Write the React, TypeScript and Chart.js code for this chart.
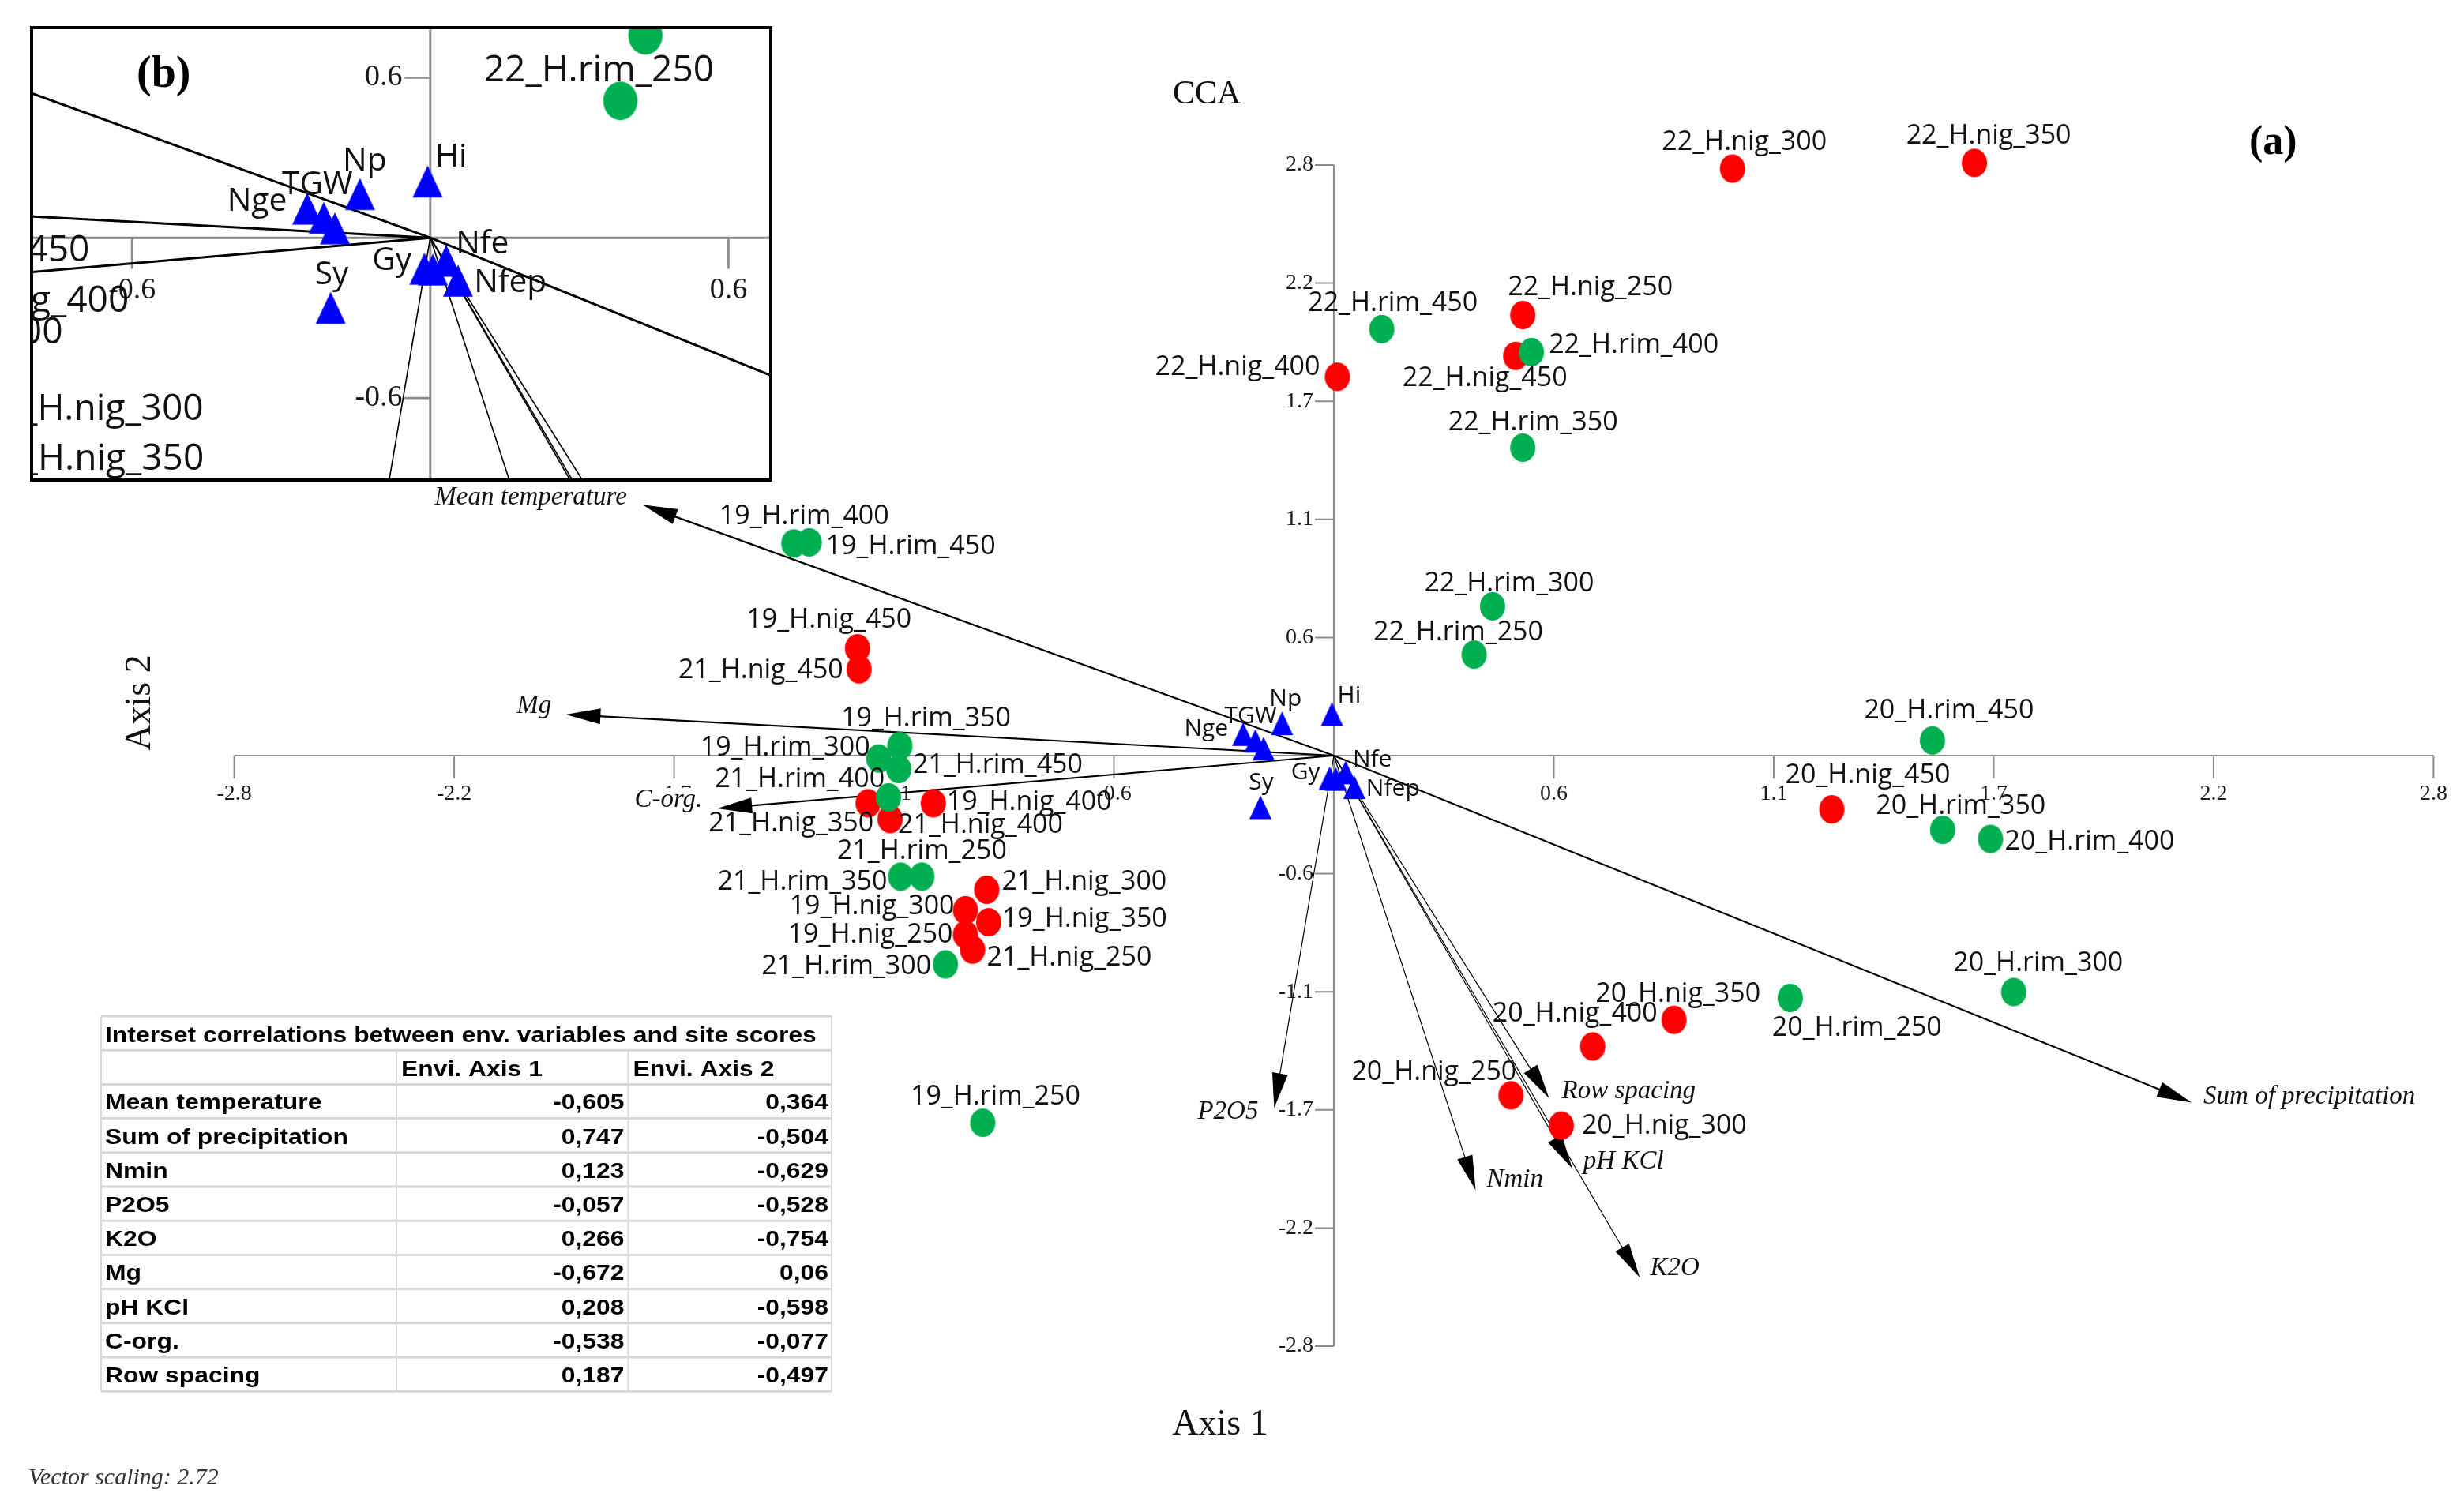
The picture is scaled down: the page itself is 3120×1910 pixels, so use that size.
import React, { useEffect, useRef } from 'react';
import { Chart, registerables } from 'chart.js';

Chart.register(...registerables);

// ---------------- DATA ----------------
const rimNames = [
  '22_H.rim_450', '22_H.rim_400', '22_H.rim_350', '22_H.rim_300', '22_H.rim_250',
  '19_H.rim_400', '19_H.rim_450', '19_H.rim_350', '19_H.rim_300', '21_H.rim_450',
  '21_H.rim_400', '21_H.rim_350', '21_H.rim_250', '21_H.rim_300', '19_H.rim_250',
  '20_H.rim_450', '20_H.rim_350', '20_H.rim_400', '20_H.rim_300', '20_H.rim_250',
];
const rimAxis1 = [0.122, 0.503, 0.481, 0.404, 0.357, -1.375, -1.336, -1.105, -1.159, -1.108, -1.134, -1.103, -1.049, -0.989, -0.894, 1.524, 1.55, 1.672, 1.731, 1.162];
const rimAxis2 = [2.022, 1.913, 1.46, 0.708, 0.479, 1.006, 1.011, 0.046, -0.014, -0.064, -0.198, -0.574, -0.574, -0.99, -1.741, 0.072, -0.352, -0.395, -1.121, -1.149];

const nigNames = [
  '22_H.nig_300', '22_H.nig_350', '22_H.nig_250', '22_H.nig_450', '22_H.nig_400',
  '19_H.nig_450', '21_H.nig_450', '21_H.nig_350', '21_H.nig_400', '19_H.nig_400',
  '21_H.nig_300', '19_H.nig_300', '19_H.nig_350', '19_H.nig_250', '21_H.nig_250',
  '20_H.nig_450', '20_H.nig_350', '20_H.nig_400', '20_H.nig_250', '20_H.nig_300',
];
const nigAxis1 = [1.015, 1.631, 0.481, 0.463, 0.009, -1.213, -1.209, -1.186, -1.13, -1.02, -0.884, -0.938, -0.879, -0.938, -0.92, 1.268, 0.866, 0.659, 0.451, 0.579];
const nigAxis2 = [2.783, 2.81, 2.089, 1.895, 1.796, 0.509, 0.409, -0.226, -0.301, -0.226, -0.636, -0.733, -0.79, -0.849, -0.92, -0.255, -1.253, -1.379, -1.611, -1.754];

const speciesNames = ['Hi', 'Np', 'Nge', 'TGW', '', 'Sy', 'Gy', '', 'Nfe', 'Nfep'];
const speciesAxis1 = [-0.005, -0.132, -0.231, -0.2, -0.179, -0.187, -0.011, 0.005, 0.03, 0.052];
const speciesAxis2 = [0.197, 0.153, 0.102, 0.07, 0.033, -0.245, -0.108, -0.111, -0.08, -0.15];

const envNames = ['Mean temperature', 'Mg', 'C-org.', 'Sum of precipitation', 'Row spacing', 'pH KCl', 'Nmin', 'K2O', 'P2O5'];
const envAxis1 = [-1.76, -1.956, -1.57, 2.184, 0.548, 0.607, 0.361, 0.779, -0.152];
const envAxis2 = [1.189, 0.195, -0.251, -1.645, -1.625, -1.958, -2.06, -2.474, -1.67];

const axisTicks = [-2.8, -2.24, -1.68, -1.12, -0.56, 0.56, 1.12, 1.68, 2.24, 2.8];

const tableTitle = 'Interset correlations between env. variables and site scores';
const tableHeaders = ['Envi. Axis 1', 'Envi. Axis 2'];
const tableVariables = ['Mean temperature', 'Sum of precipitation', 'Nmin', 'P2O5', 'K2O', 'Mg', 'pH KCl', 'C-org.', 'Row spacing'];
const tableAxis1 = ['-0,605', '0,747', '0,123', '-0,057', '0,266', '-0,672', '0,208', '-0,538', '0,187'];
const tableAxis2 = ['0,364', '-0,504', '-0,629', '-0,528', '-0,754', '0,06', '-0,598', '-0,077', '-0,497'];

// ---------------- STYLE / LAYOUT ----------------
type Place = [string, number, number];
const rimLabelPlace: Place[] = [
  ['c', 14, -23], ['l', 22, 1], ['c', 13, -22], ['c', 21, -19], ['c', -20, -18],
  ['c', 13, -24], ['l', 21, 15], ['c', 33, -25], ['r', -11, -4], ['l', 18, 5],
  ['r', -5, -13], ['r', -17, 17], ['c', 0, -22], ['r', -18, 13], ['c', 16, -23],
  ['c', 21, -28], ['c', 23, -20], ['l', 18, 13], ['c', 31, -26], ['l', -23, 48],
];
const nigLabelPlace: Place[] = [
  ['c', 15, -24], ['c', 18, -24], ['l', -19, -25], ['c', -39, 38], ['r', -22, -2],
  ['c', -36, -26], ['r', -20, 11], ['r', 7, 36], ['l', 10, 18], ['l', 17, 9],
  ['l', 19, 0], ['r', -14, 5], ['l', 17, 6], ['r', -16, 10], ['l', 18, 20],
  ['l', -59, -33], ['c', 5, -23], ['r', 82, -31], ['r', 7, -19], ['l', 26, 10],
];
const speciesLabelPlace: Place[] = [
  ['l', 7, -14], ['l', -16, -22], ['r', -19, 2], ['l', -39, -22], ['l', 0, 0],
  ['c', 1, -22], ['r', -12, 1], ['l', 0, 0], ['l', 9, -7], ['l', 15, 11],
];
const envLabelPlace: Place[] = [
  ['r', -20, 0], ['r', -18, -2], ['r', -19, -2], ['l', 15, 2], ['l', 16, 0],
  ['l', 14, 0], ['l', 14, -4], ['l', 13, -3], ['r', -20, 14],
];
const envLineWeight = [2.2, 2.2, 2.2, 2.2, 1.2, 1.2, 1.2, 1.2, 1.2];

const GREEN = '#00b050';
const RED = '#ff0000';
const BLUE = '#0000ff';
const INSET_SCALE = 1.356;
const insetRangeX = [-0.7516, 0.6424];
const insetRangeY = [-0.8526, 0.7405];

const alignOf = (a: string): CanvasTextAlign => (a === 'l' ? 'left' : a === 'r' ? 'right' : 'center');

function marker(kind: string, color: string, w: number, h: number) {
  const c = document.createElement('canvas');
  c.width = Math.ceil(w) + 2;
  c.height = Math.ceil(h) + 2;
  const g = c.getContext('2d')!;
  g.fillStyle = color;
  g.beginPath();
  if (kind === 'ellipse') {
    g.ellipse(c.width / 2, c.height / 2, w / 2, h / 2, 0, 0, Math.PI * 2);
  } else {
    const ox = (c.width - w) / 2;
    const oy = (c.height - h) / 2;
    g.moveTo(ox + w / 2, oy);
    g.lineTo(ox + w, oy + h);
    g.lineTo(ox, oy + h);
    g.closePath();
  }
  g.fill();
  return c;
}

function drawText(
  ctx: CanvasRenderingContext2D, text: string, x: number, y: number, font: string,
  align: CanvasTextAlign, color: string, kx = 1, ky = 1, baseline: CanvasTextBaseline = 'alphabetic',
  background = false,
) {
  ctx.save();
  ctx.font = font;
  ctx.textAlign = align;
  ctx.textBaseline = baseline;
  ctx.translate(x, y);
  ctx.scale(kx, ky);
  if (background) {
    const m = ctx.measureText(text);
    ctx.fillStyle = '#ffffff';
    ctx.fillRect(-m.actualBoundingBoxLeft - 2, -m.actualBoundingBoxAscent - 2,
      m.actualBoundingBoxLeft + m.actualBoundingBoxRight + 4, m.actualBoundingBoxAscent + m.actualBoundingBoxDescent + 4);
  }
  ctx.fillStyle = color;
  ctx.fillText(text, 0, 0);
  ctx.restore();
}

function drawTable(ctx: CanvasRenderingContext2D) {
  const left = 128, right = 1053, top = 1287, rowH = 43.2, c1 = 502, c2 = 795.5;
  const rows = tableVariables.length + 2;
  const bottom = top + rows * rowH;
  ctx.save();
  ctx.fillStyle = '#ffffff';
  ctx.fillRect(left, top, right - left, bottom - top);
  ctx.strokeStyle = '#d6d6d6';
  ctx.lineWidth = 3;
  for (let k = 0; k <= rows; k++) {
    ctx.beginPath();
    ctx.moveTo(left, top + k * rowH);
    ctx.lineTo(right, top + k * rowH);
    ctx.stroke();
  }
  ctx.lineWidth = 2;
  ctx.strokeStyle = '#dadada';
  [left, right].forEach((x) => {
    ctx.beginPath(); ctx.moveTo(x, top); ctx.lineTo(x, bottom); ctx.stroke();
  });
  [c1, c2].forEach((x) => {
    ctx.beginPath(); ctx.moveTo(x, top + rowH); ctx.lineTo(x, bottom); ctx.stroke();
  });
  const font = 'bold 27px "Liberation Sans"';
  const kx = 1.18;
  drawText(ctx, tableTitle, 133, top + 33, font, 'left', '#000', kx);
  drawText(ctx, tableHeaders[0], c1 + 6, top + rowH + 33, font, 'left', '#000', kx);
  drawText(ctx, tableHeaders[1], c2 + 6, top + rowH + 33, font, 'left', '#000', kx);
  tableVariables.forEach((name, i) => {
    const y = top + (i + 2) * rowH + 32;
    drawText(ctx, name, 133, y, font, 'left', '#000', kx);
    drawText(ctx, tableAxis1[i], c2 - 5, y, font, 'right', '#000', kx);
    drawText(ctx, tableAxis2[i], right - 4, y, font, 'right', '#000', kx);
  });
  ctx.restore();
}

const ccaPlugin = {
  id: 'cca',
  beforeDatasetsDraw(chart: any, _args: any, opts: any) {
    const { ctx, chartArea: a, scales } = chart;
    const s = opts.s as number;
    const X = (v: number) => scales.x.getPixelForValue(v);
    const Y = (v: number) => scales.y.getPixelForValue(v);
    ctx.save();
    if (opts.inset) {
      ctx.fillStyle = '#fff';
      ctx.fillRect(0, 0, chart.width, chart.height);
      ctx.beginPath();
      ctx.rect(a.left, a.top, a.right - a.left, a.bottom - a.top);
      ctx.clip();
    }
    const x0 = X(0), y0 = Y(0);
    const first = axisTicks[0], last = axisTicks[axisTicks.length - 1];
    ctx.strokeStyle = '#8c8c8c';
    ctx.lineWidth = 2.2 * s;
    ctx.beginPath();
    ctx.moveTo(X(first), y0); ctx.lineTo(X(last), y0);
    ctx.moveTo(x0, Y(last)); ctx.lineTo(x0, Y(first));
    ctx.stroke();
    ctx.lineWidth = 2 * s;
    axisTicks.forEach((t) => {
      const xp = X(t), yp = Y(t);
      ctx.beginPath();
      ctx.moveTo(xp, y0); ctx.lineTo(xp, y0 + 29 * s);
      ctx.moveTo(x0 - 24 * s, yp); ctx.lineTo(x0, yp);
      ctx.stroke();
      const lab = t.toFixed(1);
      const f = `${28 * s}px "Liberation Serif"`;
      drawText(ctx, lab, xp, y0 + 49 * s, f, 'center', '#1a1a1a', 1, 1, 'middle');
      drawText(ctx, lab, x0 - 26 * s, yp, f, 'right', '#1a1a1a', 1, 1, 'middle');
    });
    // environmental arrows
    envAxis1.forEach((v, i) => {
      const tx = X(v), ty = Y(envAxis2[i]);
      const dx = tx - x0, dy = ty - y0;
      const len = Math.hypot(dx, dy);
      const ux = dx / len, uy = dy / len;
      const L = 44 * s, W = 10 * s;
      const bx = tx - ux * L, by = ty - uy * L;
      ctx.strokeStyle = '#000';
      ctx.lineWidth = envLineWeight[i] * s;
      ctx.beginPath();
      ctx.moveTo(x0, y0);
      ctx.lineTo(bx + ux * 3, by + uy * 3);
      ctx.stroke();
      ctx.fillStyle = '#000';
      ctx.beginPath();
      ctx.moveTo(tx, ty);
      ctx.lineTo(bx - uy * W, by + ux * W);
      ctx.lineTo(bx + uy * W, by - ux * W);
      ctx.closePath();
      ctx.fill();
    });
    envAxis1.forEach((v, i) => {
      const tx = X(v), ty = Y(envAxis2[i]);
      const p = envLabelPlace[i];
      drawText(ctx, envNames[i], tx + p[1] * s, ty + p[2] * s, `italic ${33 * s}px "Liberation Serif"`,
        alignOf(p[0]), '#111', 1, 1, 'alphabetic', true);
    });
    ctx.restore();
  },
  afterDatasetsDraw(chart: any, _args: any, opts: any) {
    const { ctx, chartArea: a, scales } = chart;
    const s = opts.s as number;
    const X = (v: number) => scales.x.getPixelForValue(v);
    const Y = (v: number) => scales.y.getPixelForValue(v);
    ctx.save();
    if (opts.inset) {
      ctx.beginPath();
      ctx.rect(a.left, a.top, a.right - a.left, a.bottom - a.top);
      ctx.clip();
    }
    const siteFont = `${34 * s}px "Open Sans"`;
    const label = (names: string[], xs: number[], ys: number[], place: Place[], font: string) => {
      names.forEach((n, i) => {
        if (!n) return;
        const p = place[i];
        drawText(ctx, n, X(xs[i]) + p[1] * s, Y(ys[i]) + p[2] * s, font, alignOf(p[0]), '#111');
      });
    };
    label(rimNames, rimAxis1, rimAxis2, rimLabelPlace, siteFont);
    label(nigNames, nigAxis1, nigAxis2, nigLabelPlace, siteFont);
    label(speciesNames, speciesAxis1, speciesAxis2, speciesLabelPlace, `${30 * s}px "Open Sans"`);
    ctx.restore();

    if (opts.inset) {
      ctx.save();
      drawText(ctx, '(b)', 135, 77, 'bold 56px "Liberation Serif"', 'left', '#000');
      ctx.strokeStyle = '#000';
      ctx.lineWidth = 4;
      ctx.strokeRect(2, 2, chart.width - 4, chart.height - 4);
      ctx.restore();
    } else {
      drawText(ctx, 'CCA', 1485, 131, '42px "Liberation Serif"', 'left', '#111');
      drawText(ctx, '(a)', 2848, 195, 'bold 52px "Liberation Serif"', 'left', '#000');
      drawText(ctx, 'Axis 1', 1545, 1817, '46px "Liberation Serif"', 'center', '#111');
      ctx.save();
      ctx.translate(190, 890);
      ctx.rotate(-Math.PI / 2);
      drawText(ctx, 'Axis 2', 0, 0, '46px "Liberation Serif"', 'center', '#111');
      ctx.restore();
      drawText(ctx, 'Vector scaling: 2.72', 36, 1880, 'italic 30px "Liberation Serif"', 'left', '#333');
      drawTable(ctx);
    }
  },
};

function buildConfig(s: number, inset: boolean): any {
  const clip = inset ? 0 : false;
  return {
    type: 'scatter',
    data: {
      datasets: [
        {
          label: 'H.rim',
          data: rimAxis1.map((x, i) => ({ x, y: rimAxis2[i] })),
          pointStyle: marker('ellipse', GREEN, 32 * s, 36 * s),
          pointRadius: 16 * s,
          clip,
        },
        {
          label: 'H.nig',
          data: nigAxis1.map((x, i) => ({ x, y: nigAxis2[i] })),
          pointStyle: marker('ellipse', RED, 32 * s, 36 * s),
          pointRadius: 16 * s,
          clip,
        },
        {
          label: 'Species',
          data: speciesAxis1.map((x, i) => ({ x, y: speciesAxis2[i] })),
          pointStyle: marker('triangle', BLUE, 28 * s, 30 * s),
          pointRadius: 15 * s,
          clip,
        },
      ],
    },
    options: {
      responsive: false,
      animation: false,
      devicePixelRatio: 1,
      events: [],
      layout: {
        autoPadding: false,
        padding: inset ? 0 : { left: 296.6, right: 38.6, top: 209, bottom: 205 },
      },
      scales: {
        x: { type: 'linear', min: inset ? insetRangeX[0] : -2.8, max: inset ? insetRangeX[1] : 2.8, display: false },
        y: { type: 'linear', min: inset ? insetRangeY[0] : -2.8, max: inset ? insetRangeY[1] : 2.8, display: false },
      },
      plugins: {
        legend: { display: false },
        tooltip: { enabled: false },
        cca: { s, inset },
      },
    },
    plugins: [ccaPlugin],
  };
}

export default function App() {
  const mainRef = useRef<HTMLCanvasElement>(null);
  const insetRef = useRef<HTMLCanvasElement>(null);
  useEffect(() => {
    document.body.style.margin = '0';
    const charts = [
      new Chart(mainRef.current!, buildConfig(1, false)),
      new Chart(insetRef.current!, buildConfig(INSET_SCALE, true)),
    ];
    return () => charts.forEach((c) => c.destroy());
  }, []);
  return (
    <div style={{ position: 'fixed', left: 0, top: 0, width: 3120, height: 1910, background: '#fff', overflow: 'hidden' }}>
      <canvas ref={mainRef} width={3120} height={1910} style={{ position: 'absolute', left: 0, top: 0, width: 3120, height: 1910 }} />
      <canvas ref={insetRef} width={940} height={577} style={{ position: 'absolute', left: 38, top: 33, width: 940, height: 577, background: '#fff' }} />
    </div>
  );
}
